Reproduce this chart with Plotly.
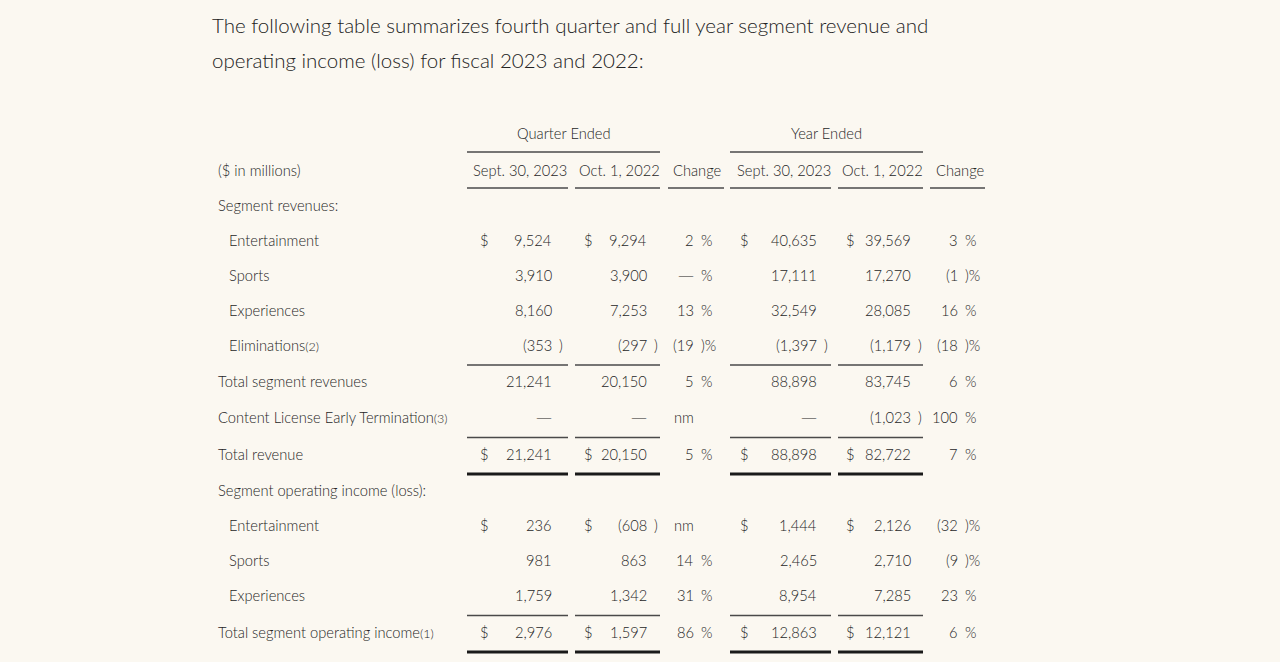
import plotly.graph_objects as go

# ---------------- data ----------------
title_lines = [
    "The following table summarizes fourth quarter and full year segment revenue and",
    "operating income (loss) for fiscal 2023 and 2022:",
]
group_headers = ["Quarter Ended", "Year Ended"]
col_headers = ["($ in millions)", "Sept. 30, 2023", "Oct. 1, 2022", "Change",
               "Sept. 30, 2023", "Oct. 1, 2022", "Change"]
row_labels = ["Segment revenues:", "Entertainment", "Sports", "Experiences",
              "Eliminations<span style='font-size:12.5px'>(2)</span>",
              "Total segment revenues",
              "Content License Early Termination<span style='font-size:12.5px'>(3)</span>",
              "Total revenue", "Segment operating income (loss):",
              "Entertainment", "Sports", "Experiences",
              "Total segment operating income<span style='font-size:12.5px'>(1)</span>"]
row_indent = [0, 1, 1, 1, 1, 0, 0, 0, 0, 1, 1, 1, 0]
q_2023 = [None, 9524, 3910, 8160, -353, 21241, 0, 21241, None, 236, 981, 1759, 2976]
q_2022 = [None, 9294, 3900, 7253, -297, 20150, 0, 20150, None, -608, 863, 1342, 1597]
q_change = [None, 2, 0, 13, -19, 5, "nm", 5, None, "nm", 14, 31, 86]
y_2023 = [None, 40635, 17111, 32549, -1397, 88898, 0, 88898, None, 1444, 2465, 8954, 12863]
y_2022 = [None, 39569, 17270, 28085, -1179, 83745, -1023, 82722, None, 2126, 2710, 7285, 12121]
y_change = [None, 3, -1, 16, -18, 6, 100, 7, None, -32, -9, 23, 6]
dollar_rows = [1, 7, 9, 12]
single_rule_after = [4, 6, 11]
double_rule_after = [7, 12]

# ---------------- layout geometry ----------------
W, H = 1280, 662
BG = "#FBF8F1"
TXT = "#262626"
FONT = "Lato"
WEIGHT = 300
BODY = 14.7
DASH = "<span style='font-family:DejaVu Sans;font-size:16px'>—</span>"
row_y = [205, 240, 275, 310, 345, 381, 417, 454, 490, 525, 560, 595, 632]
label_x = [216, 227]
# value columns: (dollar x, number right edge, underline x0, x1)
val_cols = [
    dict(data=q_2023, dollar=478, right=554, x0=467, x1=568),
    dict(data=q_2022, dollar=582, right=649, x0=575, x1=660),
    dict(data=y_2023, dollar=738, right=819, x0=730, x1=831),
    dict(data=y_2022, dollar=844, right=913, x0=838, x1=923),
]
chg_cols = [
    dict(data=q_change, right=696, x0=668, x1=724),
    dict(data=y_change, right=960, x0=930, x1=985),
]
hdr_centers = [340, 520, 619, 697, 784, 882, 960]
group_spans = [(467, 660), (730, 923)]

fig = go.Figure()
ann = []
shapes = []


def text(x, y, s, anchor="left", size=BODY, color=TXT):
    ann.append(dict(x=x, y=y, xref="x", yref="y", text=s, showarrow=False,
                    xanchor=anchor, yanchor="middle",
                    font=dict(family=FONT, size=size, color=color, weight=WEIGHT)))


def rule(x0, x1, y, w=1.4, color="#4a4a4a"):
    shapes.append(dict(type="line", xref="x", yref="y", x0=x0, x1=x1, y0=y, y1=y,
                       line=dict(color=color, width=w)))


# title
text(210, 25, title_lines[0], size=20.5, color="#222222")
text(210, 60, title_lines[1], size=20.5, color="#222222")

# group headers
for (a, b), g in zip(group_spans, group_headers):
    text((a + b) / 2, 133, g, anchor="center")
    rule(a, b, 152)

# column headers
text(label_x[0], 170, col_headers[0])
for i, h in enumerate(col_headers[1:]):
    text(hdr_centers[i + 1], 170, h, anchor="center")
for c in val_cols + chg_cols:
    rule(c["x0"], c["x1"], 188)

# rows
for r, (lab, ind, y) in enumerate(zip(row_labels, row_indent, row_y)):
    text(label_x[ind], y, lab)
    for c in val_cols:
        v = c["data"][r]
        if v is None:
            continue
        if r in dollar_rows:
            text(c["dollar"], y, "$")
        if v == 0:
            text(c["right"], y, DASH, anchor="right")
        elif v < 0:
            text(c["right"], y, "(" + f"{-v:,}", anchor="right")
            text(c["right"] + 3, y, ")")
        else:
            text(c["right"], y, f"{v:,}", anchor="right")
    for c in chg_cols:
        v = c["data"][r]
        if v is None:
            continue
        if v == "nm":
            text(c["right"], y, "nm", anchor="right")
        elif v == 0:
            text(c["right"], y, DASH, anchor="right")
            text(c["right"] + 3, y, "%")
        elif v < 0:
            text(c["right"], y, "(" + str(-v), anchor="right")
            text(c["right"] + 3, y, ")%")
        else:
            text(c["right"], y, str(v), anchor="right")
            text(c["right"] + 3, y, "%")

for r in single_rule_after:
    yy = (row_y[r] + row_y[r + 1]) / 2 + 2
    for c in val_cols:
        rule(c["x0"], c["x1"], yy)
for r in double_rule_after:
    yy = row_y[r] + 20
    for c in val_cols:
        rule(c["x0"], c["x1"], yy, w=2.8, color="#1a1a1a")

fig.update_layout(
    width=W, height=H, margin=dict(l=0, r=0, t=0, b=0),
    paper_bgcolor=BG, plot_bgcolor=BG,
    xaxis=dict(range=[0, W], visible=False, fixedrange=True),
    yaxis=dict(range=[H, 0], visible=False, fixedrange=True),
    annotations=ann, shapes=shapes, showlegend=False,
)
fig.write_html("out.html", config={"displayModeBar": False},
               post_script="document.body.style.margin='0';document.body.style.overflow='hidden';document.body.style.background='" + BG + "';")
